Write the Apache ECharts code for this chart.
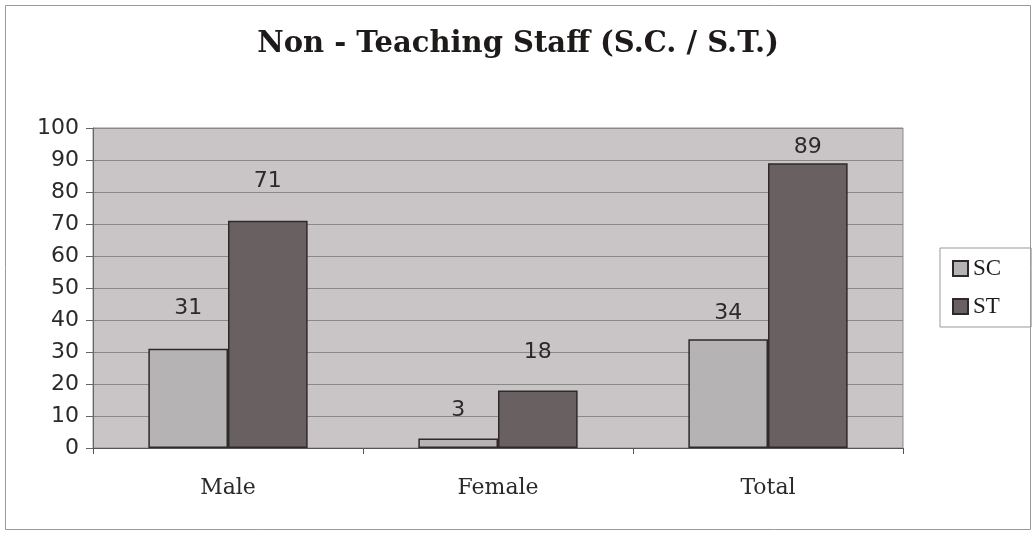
<!DOCTYPE html>
<html><head><meta charset="utf-8">
<script src="https://cdn.jsdelivr.net/npm/echarts@6/dist/echarts.min.js"></script>
<style>html,body{margin:0;padding:0;background:#fff}#c{width:1036px;height:535px}</style>
</head><body><div id="c"></div>
<script>
const categories = ['Male', 'Female', 'Total'];
const scValues = [31, 3, 34];
const stValues = [71, 18, 89];
const yTicks = [0, 100, 10];
// label placement (style only): distance of each value label above its bar
const scLabelGap = [30, 17, 15];
const stLabelGap = [29, 27, 5];

const chart = echarts.init(document.getElementById('c'));
const labelStyle = {show: true, position: 'top', fontFamily: 'DejaVu Sans', fontSize: 22, color: '#2a2a2a'};
const withGap = (vals, gaps) => vals.map((v, i) => ({value: v, label: {distance: gaps[i]}}));
chart.setOption({
  animation: false,
  backgroundColor: '#fff',
  graphic: [{type: 'rect', shape: {x: 5.5, y: 5.5, width: 1025, height: 524}, style: {fill: 'none', stroke: '#9a9a9a', lineWidth: 1}, silent: true, z: -1}],
  title: {text: 'Non - Teaching Staff (S.C. / S.T.)', left: 'center', top: 25,
    textStyle: {fontFamily: 'DejaVu Serif', fontWeight: 'bold', fontSize: 29, color: '#1e1a1a'}},
  legend: {orient: 'vertical', left: 940, top: 248, padding: [9, 30, 9, 12], itemGap: 15,
    borderColor: '#999', borderWidth: 1, itemWidth: 15, itemHeight: 15, icon: 'rect',
    textStyle: {fontFamily: 'Liberation Serif', fontSize: 23, color: '#1e1a1a'},
    data: ['SC', 'ST']},
  grid: {left: 93, top: 128, width: 810, height: 320, show: true, backgroundColor: '#c9c5c7', borderColor: '#8f8a8c', borderWidth: 1, containLabel: false},
  xAxis: {type: 'category', data: categories,
    axisLine: {lineStyle: {color: '#555', width: 1}},
    axisTick: {show: true, length: 6, lineStyle: {color: '#555'}},
    axisLabel: {fontFamily: 'DejaVu Serif', fontSize: 22, color: '#2a2a2a', margin: 29}},
  yAxis: {type: 'value', min: yTicks[0], max: yTicks[1], interval: yTicks[2],
    axisLine: {show: true, lineStyle: {color: '#666'}},
    axisTick: {show: true, length: 7, lineStyle: {color: '#666'}},
    splitLine: {lineStyle: {color: '#8c8789', width: 1}},
    axisLabel: {fontFamily: 'DejaVu Sans', fontSize: 22, color: '#2a2a2a', margin: 14}},
  series: [
    {name: 'SC', type: 'bar', data: withGap(scValues, scLabelGap), barGap: '0%', barCategoryGap: '41%',
      itemStyle: {color: '#b6b3b5', borderColor: '#2e2a2b', borderWidth: 1.5}, label: labelStyle},
    {name: 'ST', type: 'bar', data: withGap(stValues, stLabelGap),
      itemStyle: {color: '#696062', borderColor: '#2e2a2b', borderWidth: 1.5}, label: labelStyle}
  ]
});
</script></body></html>
